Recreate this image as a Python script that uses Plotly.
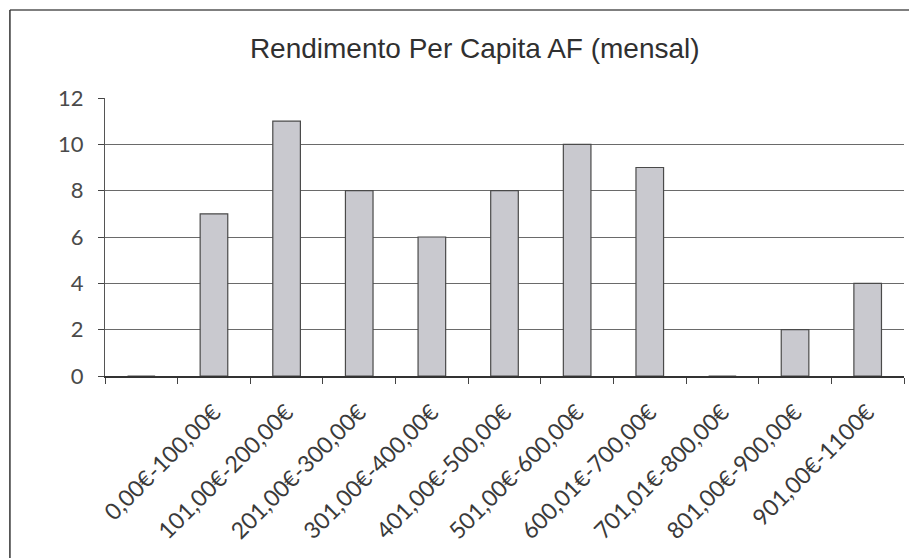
import plotly.graph_objects as go

categories = [" ", "0,00€-100,00€", "101,00€-200,00€", "201,00€-300,00€", "301,00€-400,00€",
              "401,00€-500,00€", "501,00€-600,00€", "600,01€-700,00€", "701,01€-800,00€",
              "801,00€-900,00€", "901,00€-1100€"]
values = [0, 7, 11, 8, 6, 8, 10, 9, 0, 2, 4]
y_ticks = [0, 2, 4, 6, 8, 10, 12]
title_text = "Rendimento Per Capita AF (mensal)"

fig = go.Figure(go.Bar(
    x=categories, y=values,
    marker=dict(color="#c9c9cf", line=dict(color="#4a4a4a", width=1.2)),
    width=0.38,
))

fig.update_layout(
    width=917, height=558,
    margin=dict(l=97, r=21, t=90, b=190),
    paper_bgcolor="white", plot_bgcolor="white",
    showlegend=False,
    title=dict(text=title_text, x=0.509, xref="container", xanchor="center",
               y=0.928, yref="container", yanchor="middle",
               font=dict(family="Liberation Sans, Arial", size=28, color="#303030")),
    xaxis=dict(type="category", tickangle=-45, tickson="boundaries",
               ticks="outside", ticklen=6, tickcolor="#444",
               showline=True, linecolor="#333", linewidth=1.5,
               showgrid=False, ticklabelstandoff=12,
               tickfont=dict(family="Lato, Noto Sans", size=23, color="#3a3a3a")),
    yaxis=dict(range=[0, 12], tickvals=y_ticks, ticks="outside", ticklen=6,
               tickcolor="#444", showline=True, linecolor="#555", linewidth=1,
               showgrid=True, gridcolor="#6a6a6a", gridwidth=1, zeroline=False,
               ticklabelstandoff=10,
               tickfont=dict(family="Lato, Noto Sans", size=22, color="#4a4a4a")),
    shapes=[
        dict(type="line", xref="paper", yref="paper", x0=-0.119, x1=1.05, y0=1.3165, y1=1.3165,
             line=dict(color="#555", width=1.5)),
        dict(type="line", xref="paper", yref="paper", x0=-0.119, x1=-0.119, y0=1.3165, y1=-0.7,
             line=dict(color="#333", width=1.5)),
    ],
)

fig.write_html("out.html")
